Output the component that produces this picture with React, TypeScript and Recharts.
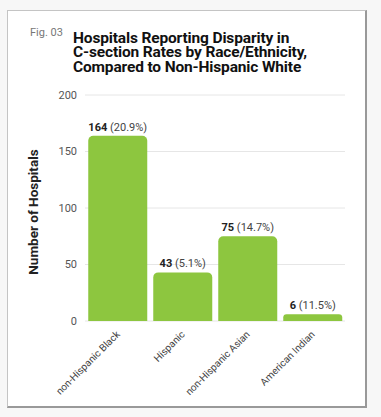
import React from 'react';
import { BarChart, Bar, XAxis, YAxis, CartesianGrid, LabelList } from 'recharts';

const groups = ['non-Hispanic Black', 'Hispanic', 'non-Hispanic Asian', 'American Indian'];
const hospitals = [164, 43, 75, 6];
const shares = ['20.9%', '5.1%', '14.7%', '11.5%'];
const yTicks = [0, 50, 100, 150, 200];

const data = groups.map((g, i) => ({ group: g, count: hospitals[i], share: shares[i] }));

const font = 'Roboto, "Noto Sans", sans-serif';

const GroupTick = (props: any) => {
  const { x, y, payload } = props;
  return (
    <text
      x={x + 3}
      y={y + 6}
      textAnchor="end"
      fontSize={10}
      fill="#444"
      fontFamily={font}
      transform={`rotate(-45 ${x + 3} ${y + 6})`}
    >
      {payload.value}
    </text>
  );
};

const CountLabel = (props: any) => {
  const { x, y, width, index } = props;
  return (
    <text x={x + width / 2} y={y - 5} textAnchor="middle" fontSize={11} fill="#222" fontFamily={font}>
      <tspan fontWeight="bold">{hospitals[index]}</tspan>
      <tspan fill="#444"> ({shares[index]})</tspan>
    </text>
  );
};

const AxisTitle = (props: any) => {
  const { viewBox } = props;
  const cy = viewBox.y + viewBox.height / 2 + 4;
  return (
    <text
      x={38}
      y={cy}
      textAnchor="middle"
      fontSize={13.5}
      fontWeight="bold"
      fill="#222"
      fontFamily={font}
      transform={`rotate(-90 38 ${cy})`}
    >
      Number of Hospitals
    </text>
  );
};

export default function App() {
  return (
    <div style={{ position: 'absolute', left: 0, top: 0, width: 381, height: 417, background: '#f7f7f7', overflow: 'hidden' }}>
      <div
        style={{
          position: 'absolute',
          left: 7,
          top: 10,
          width: 357,
          height: 395,
          background: '#fff',
          borderTop: '1px solid #c4c4c4',
          borderLeft: '1px solid #c4c4c4',
          borderRight: '2px solid #999',
          borderBottom: '2px solid #999',
        }}
      />
      <div style={{ position: 'absolute', left: 30, top: 26, fontFamily: font, fontSize: 11, color: '#777' }}>Fig. 03</div>
      <div
        style={{
          position: 'absolute',
          left: 73,
          top: 31,
          fontFamily: font,
          fontSize: 15.5,
          fontWeight: 'bold',
          letterSpacing: '-0.15px',
          lineHeight: '14.3px',
          color: '#111',
        }}
      >
        Hospitals Reporting Disparity in
        <br />
        C-section Rates by Race/Ethnicity,
        <br />
        Compared to Non-Hispanic White
      </div>
      <div style={{ position: 'absolute', left: 0, top: 0 }}>
        <BarChart
          width={381}
          height={417}
          data={data}
          margin={{ top: 95, right: 36, bottom: 16, left: 0 }}
          barCategoryGap="5%"
        >
          <CartesianGrid vertical={false} stroke="#e6e6e6" />
          <XAxis
            dataKey="group"
            height={80}
            interval={0}
            axisLine={false}
            tickLine={false}
            tick={<GroupTick />}
          />
          <YAxis
            width={85}
            domain={[0, 200]}
            ticks={yTicks}
            axisLine={false}
            tickLine={false}
            tick={{ fontSize: 11, fill: '#555', fontFamily: font }}
            label={<AxisTitle />}
          />
          <Bar dataKey="count" fill="#8dc63f" radius={[5, 5, 0, 0]} isAnimationActive={false}>
            <LabelList dataKey="count" content={<CountLabel />} />
          </Bar>
        </BarChart>
      </div>
    </div>
  );
}
